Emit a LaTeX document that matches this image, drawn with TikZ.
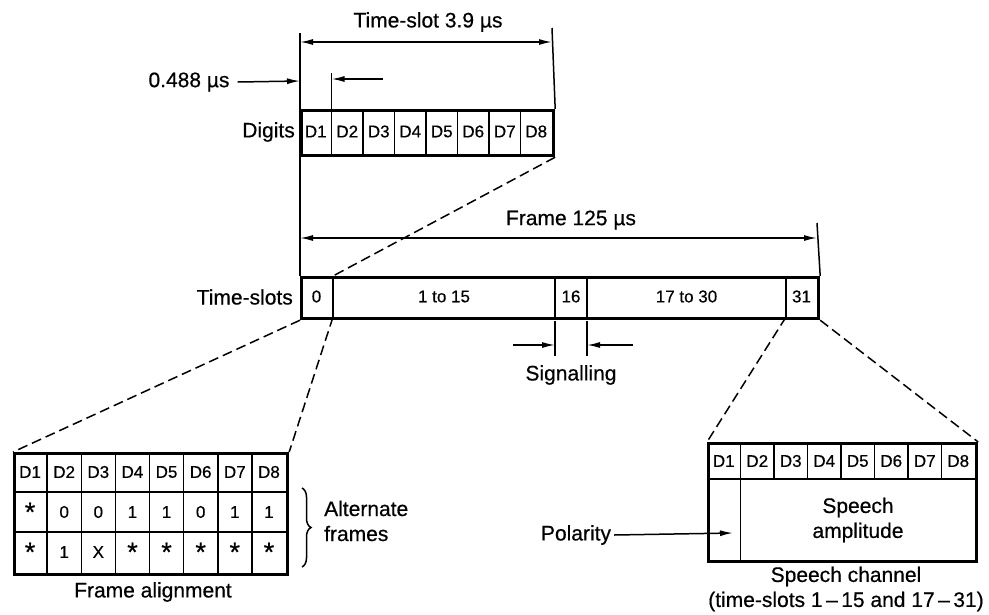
\documentclass[tikz,border=0pt]{standalone}
\usepackage{fontspec}
\setmainfont{Liberation Sans}[FakeBold=0.5]
\usetikzlibrary{arrows.meta,decorations.pathreplacing}
\newcommand{\fastr}{{\fontsize{27}{27}\selectfont\raisebox{-0.62ex}{*}}}
\begin{document}
\begin{tikzpicture}[x=1pt,y=-1pt,
  lbl/.style={font=\fontsize{21}{25}\selectfont, inner sep=0pt},
  cell/.style={font=\fontsize{17}{19}\selectfont, inner sep=0pt},
  bigbox/.style={draw, line width=3.2pt, inner sep=0pt},
  thinline/.style={line width=1.5pt},
  dimarrow/.style={line width=1.5pt, -{Latex[length=13pt,width=6pt]}},
  dimboth/.style={line width=1.5pt, {Latex[length=13pt,width=6pt]}-{Latex[length=13pt,width=6pt]}},
  dashline/.style={line width=1.5pt, dash pattern=on 10pt off 5pt},
]
\useasboundingbox (0,0) rectangle (989,614);

% ---------- Digits box (one time-slot) ----------
\foreach \i in {1,...,7} \draw[thinline] ({300+\i*31.5},109) -- ({300+\i*31.5},154);
\node[bigbox, minimum width=252pt, minimum height=45pt, anchor=north west] (digbox) at (300,109) {};
\foreach \i in {1,...,8} \node[cell] (dg\i) at ({300+(\i-0.5)*31.5},131.5) {D\i};
\node[lbl, anchor=east] (digits) at (295,132) {Digits};

% time-slot dimension
\coordinate (extTL) at (300,33);
\coordinate (extTR) at (552,28);
\coordinate (tsL) at (300,42);
\coordinate (tsR) at (552,42);
\draw[thinline] (extTR) -- (digbox.north east);
\draw[dimboth] (tsL) -- (tsR);
\node[lbl] (tslabel) at (428,22) {Time-slot 3.9 µs};

% 0.488 us dimension
\node[lbl] (d488) at (189,82) {0.488 µs};
\coordinate (d488end) at (300,81);
\draw[dimarrow] (d488.east) ++(8,0) coordinate (d488start) -- (d488end);
\coordinate (tickTop) at (331.5,73);
\coordinate (tickBot) at (331.5,109);
\draw[thinline] (tickTop) -- (tickBot);
\coordinate (d488bS) at (383,79);
\coordinate (d488bE) at (331.5,79);
\draw[dimarrow] (d488bS) -- (d488bE);

% ---------- Frame box ----------
\coordinate (fd1t) at (333,276); \coordinate (fd1b) at (333,317);
\coordinate (fd2t) at (555,276); \coordinate (fd2b) at (555,317);
\coordinate (fd3t) at (587,276); \coordinate (fd3b) at (587,317);
\coordinate (fd4t) at (786,276); \coordinate (fd4b) at (786,317);
\draw[thinline] (fd1t) -- (fd1b);
\draw[thinline] (fd2t) -- (fd2b);
\draw[thinline] (fd3t) -- (fd3b);
\draw[thinline] (fd4t) -- (fd4b);
\node[bigbox, minimum width=517pt, minimum height=41pt, anchor=north west] (frame) at (300,276) {};
\node[cell] (ts0) at (316.5,296.5) {0};
\node[cell] (ts1) at (444,296.5) {1 to 15};
\node[cell] (ts16) at (571,296.5) {16};
\node[cell] (ts17) at (686.5,296.5) {17 to 30};
\node[cell] (ts31) at (801.5,296.5) {31};
\node[lbl, anchor=east] (tslots) at (293,297) {Time-slots};

% left extension line (shared)
\draw[thinline] (extTL) -- (frame.north west);

% frame dimension
\coordinate (frL) at (300,238);
\coordinate (frR) at (817,238);
\coordinate (extFR) at (817,223);
\draw[thinline] (extFR) -- (frame.north east);
\draw[dimboth] (frL) -- (frR);
\node[lbl] (frlabel) at (571,220) {Frame 125 µs};

% signalling
\coordinate (sigL1) at (555,321); \coordinate (sigL2) at (555,356);
\coordinate (sigR1) at (587,321); \coordinate (sigR2) at (587,356);
\draw[thinline] (sigL1) -- (sigL2);
\draw[thinline] (sigR1) -- (sigR2);
\coordinate (sigAs) at (513,345); \coordinate (sigAe) at (555,345);
\coordinate (sigBs) at (633,345); \coordinate (sigBe) at (587,345);
\draw[dimarrow] (sigAs) -- (sigAe);
\draw[dimarrow] (sigBs) -- (sigBe);
\node[lbl] (signal) at (571,375) {Signalling};

% ---------- Frame alignment table ----------
\foreach \i in {1,...,7} \draw[thinline] ({13+\i*34.125},452) -- ({13+\i*34.125},573);
\draw[thinline] (13,492) -- (286,492);
\draw[thinline] (13,532) -- (286,532);
\node[bigbox, minimum width=273pt, minimum height=121pt, anchor=north west] (fa) at (13,452) {};
\foreach \t [count=\i] in {D1,D2,D3,D4,D5,D6,D7,D8}
  \node[cell] (fah\i) at ({13+(\i-0.5)*34.125},472) {\t};
\foreach \t [count=\i] in {\fastr,0,0,1,1,0,1,1}
  \node[cell] (faa\i) at ({13+(\i-0.5)*34.125},512) {\t};
\foreach \t [count=\i] in {\fastr,1,X,\fastr,\fastr,\fastr,\fastr,\fastr}
  \node[cell] (fab\i) at ({13+(\i-0.5)*34.125},552) {\t};
\node[lbl] (falabel) at (153,592) {Frame alignment};
\coordinate (brT) at (302,488);
\coordinate (brB) at (302,567);
\draw[thinline, decorate, decoration={brace, amplitude=9pt}] (brT) -- (brB);
\node[lbl, anchor=west, align=left] (altf) at (324,521) {Alternate\\frames};

% ---------- Speech channel table ----------
\draw[thinline] (707,479) -- (975,479);
\draw[thinline] (740.5,442) -- (740.5,560);
\foreach \i in {2,...,7} \draw[thinline] ({707+\i*33.5},442) -- ({707+\i*33.5},479);
\node[bigbox, minimum width=268pt, minimum height=118pt, anchor=north west] (sc) at (707,442) {};
\foreach \i in {1,...,8} \node[cell] (sch\i) at ({707+(\i-0.5)*33.5},461) {D\i};
\node[lbl, align=center] (amp) at (858,520) {Speech\\amplitude};
\node[lbl, align=center] (sclabel) at (846,589) {Speech channel\\(time-slots 1\,–\,15 and 17\,–\,31)};
\node[lbl] (polarity) at (576,535) {Polarity};
\coordinate (polEnd) at (733,533);
\draw[dimarrow] (polarity.east) ++(3,0) -- (polEnd);

% ---------- dashed expansion lines ----------
\draw[dashline] (digbox.south east) -- (fd1t);
\draw[dashline] (frame.south west) -- (fa.north west);
\draw[dashline] (fd1b) -- (fa.north east);
\draw[dashline] (fd4b) -- (sc.north west);
\draw[dashline] (frame.south east) -- (sc.north east);
\end{tikzpicture}
\end{document}
